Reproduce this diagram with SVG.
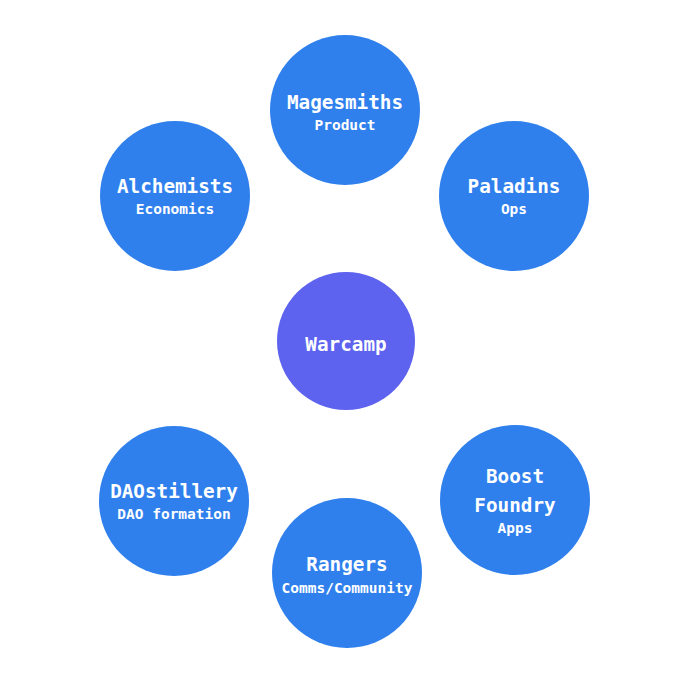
<svg xmlns="http://www.w3.org/2000/svg" width="690" height="690" viewBox="0 0 690 690">
<style>
.n{fill:#2F80ED}
.c{fill:#5D62EF}
.t{font-family:"DejaVu Sans Mono","Liberation Mono",monospace;font-weight:bold;fill:#fff;text-anchor:middle;font-size:19.3px}
.s{font-family:"DejaVu Sans Mono","Liberation Mono",monospace;font-weight:bold;fill:#fff;text-anchor:middle;font-size:14.5px}
</style>
<rect width="690" height="690" fill="#fff"/>
<g id="connectors"></g>
<g id="warcamp"><circle class="c" cx="346" cy="341" r="69"/><text class="t" x="346" y="351">Warcamp</text></g>
<g id="magesmiths"><circle class="n" cx="345" cy="110" r="75"/><text class="t" x="345" y="109">Magesmiths</text><text class="s" x="345" y="130">Product</text></g>
<g id="alchemists"><circle class="n" cx="175" cy="196" r="75"/><text class="t" x="175" y="193">Alchemists</text><text class="s" x="175" y="214">Economics</text></g>
<g id="paladins"><circle class="n" cx="514" cy="196" r="75"/><text class="t" x="514" y="193">Paladins</text><text class="s" x="514" y="214">Ops</text></g>
<g id="daostillery"><circle class="n" cx="174" cy="501" r="75"/><text class="t" x="174" y="498">DAOstillery</text><text class="s" x="174" y="519">DAO formation</text></g>
<g id="rangers"><circle class="n" cx="347" cy="573" r="75"/><text class="t" x="347" y="571">Rangers</text><text class="s" x="347" y="593">Comms/Community</text></g>
<g id="boost-foundry"><circle class="n" cx="515" cy="500" r="75"/><text class="t" x="515" y="483">Boost</text><text class="t" x="515" y="512">Foundry</text><text class="s" x="515" y="533">Apps</text></g>
</svg>
